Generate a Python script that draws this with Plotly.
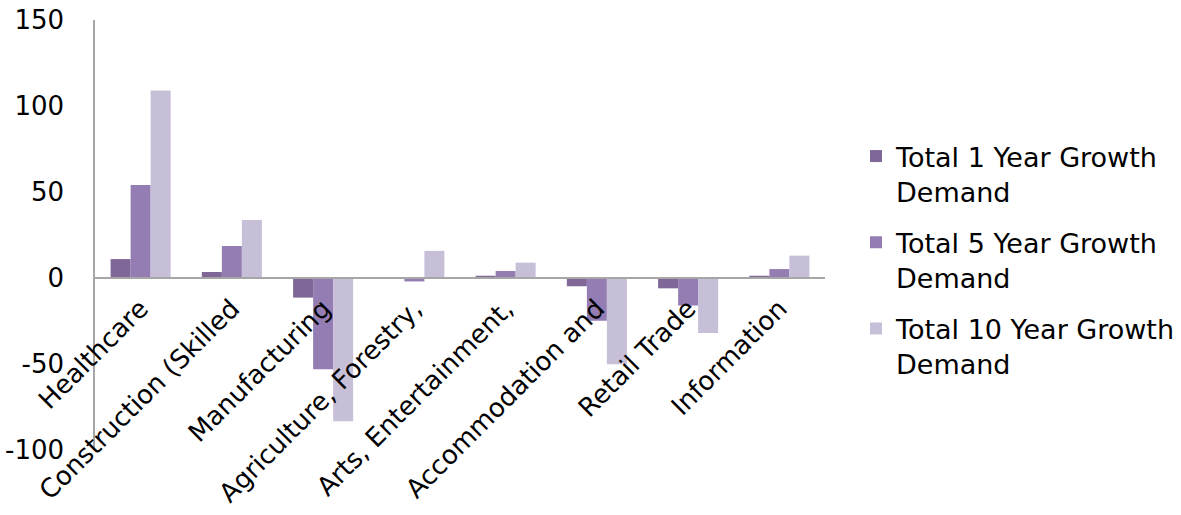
import plotly.graph_objects as go

categories = ["Healthcare", "Construction (Skilled", "Manufacturing", "Agriculture, Forestry,",
              "Arts, Entertainment,", "Accommodation and", "Retail Trade", "Information"]
growth_1yr = [11, 3.5, -11.4, 0.3, 1.3, -4.8, -6, 1.3]
growth_5yr = [54, 18.6, -53, -2, 4.1, -24.8, -16, 5.2]
growth_10yr = [109, 33.7, -83.3, 15.8, 8.9, -50.2, -32, 13]
series_names = ["Total 1 Year Growth<br>Demand", "Total 5 Year Growth<br>Demand", "Total 10 Year Growth<br>Demand"]
colors = ["#7f6798", "#947db3", "#c7bfd7"]
y_ticks = [-100, -50, 0, 50, 100, 150]
y_tick_labels = ["-100", "-50", "0", "50", "100", "150"]

FONT = "DejaVu Sans, Verdana, sans-serif"
FS = 26

fig = go.Figure()
for i, (name, vals) in enumerate(zip(series_names, [growth_1yr, growth_5yr, growth_10yr])):
    fig.add_trace(go.Bar(x=categories, y=vals, name=name, marker_color=colors[i],
                         marker_line_width=0, legendgroup=f"g{i}"))

fig.update_layout(
    width=1181, height=515,
    margin=dict(l=94.5, r=356, t=20, b=65, autoexpand=False),
    paper_bgcolor="white", plot_bgcolor="white",
    barmode="group", bargap=0.342, bargroupgap=0,
    font=dict(family=FONT, size=FS, color="black"),
    showlegend=True,
    legend=dict(xref="container", yref="container", x=856/1181, y=1 - 132/515,
                xanchor="left", yanchor="top", valign="top", tracegroupgap=13,
                font=dict(family=FONT, size=27, color="black"),
                bgcolor="rgba(0,0,0,0)", maxheight=1.0),
    xaxis=dict(anchor="free", position=0.4, showline=True, linecolor="#a6a6a6", linewidth=2,
               tickangle=-45, showgrid=False, ticks="", ticklabelstandoff=4,
               automargin=False, zeroline=False, ticklabeloverflow="allow"),
    yaxis=dict(range=[-100, 150], tickvals=y_ticks, ticktext=y_tick_labels, showline=True,
               linecolor="#a6a6a6", linewidth=1.5, showgrid=False, zeroline=False, ticks="",
               ticklabelstandoff=24, automargin=False, ticklabeloverflow="allow"),
)

fig.write_html("out.html", config={"displayModeBar": False},
               post_script="document.body.style.margin='0';document.body.style.overflow='hidden';")
